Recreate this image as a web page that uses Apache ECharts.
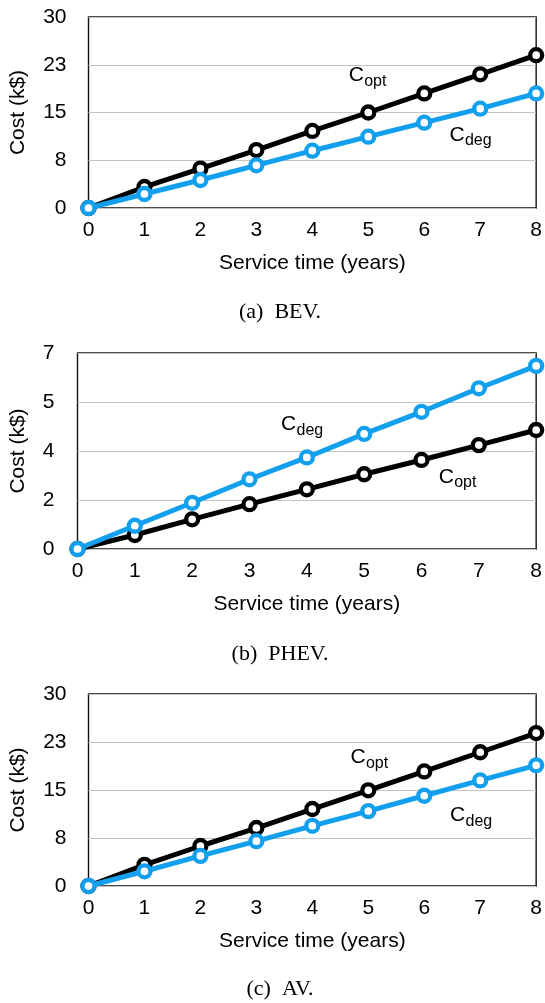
<!DOCTYPE html>
<html>
<head>
<meta charset="utf-8">
<script src="https://cdn.jsdelivr.net/npm/echarts@6/dist/echarts.min.js"></script>
<style>
html,body{margin:0;padding:0;background:#fff;}
#chart{width:545px;height:1003px;}
</style>
</head>
<body>
<div id="chart"></div>
<script>
// ---- data ----
const years = [0, 1, 2, 3, 4, 5, 6, 7, 8];

const bevOpt  = [0, 3.3, 6.2, 9.1, 12.1, 15.0, 18.0, 21.0, 24.0];
const bevDeg  = [0, 2.2, 4.4, 6.7, 9.0, 11.2, 13.4, 15.6, 18.0];

const phevOpt = [0, 0.5, 1.06, 1.6, 2.13, 2.67, 3.18, 3.71, 4.25];
const phevDeg = [0, 0.83, 1.65, 2.49, 3.27, 4.11, 4.9, 5.74, 6.54];

const avOpt   = [0, 3.3, 6.25, 9.06, 12.03, 14.95, 17.9, 20.9, 23.9];
const avDeg   = [0, 2.3, 4.7, 7.0, 9.4, 11.7, 14.1, 16.5, 18.85];

const yMax      = [30, 7, 30];
const yInterval = [7.5, 1.75, 7.5];
const captions  = ['(a)\u2002BEV.', '(b)\u2002PHEV.', '(c)\u2002AV.'];

// series label anchors in data space: [gridIndex, subscript, x, y]
const seriesLabels = [
  [0, 'opt', 4.65, 20.8], [0, 'deg', 6.45, 11.5],
  [1, 'deg', 3.55, 4.44], [1, 'opt', 6.30, 2.58],
  [2, 'opt', 4.68, 20.1], [2, 'deg', 6.46, 11.0]
];

// ---- styling ----
const BLACK = '#000000';
const BLUE = '#12a0ee';
const FONT = '"Liberation Sans", Arial, Helvetica, sans-serif';
const SERIF = '"Liberation Serif", "Times New Roman", serif';

const grids = [
  {left: 88, top: 17, width: 451, height: 191},
  {left: 77, top: 353, width: 462, height: 196},
  {left: 88, top: 694, width: 451, height: 192}
];
const yNameGap = [59.5, 48.5, 59.5];
const captionY = [312.5, 654, 989];

const sets = [[bevOpt, bevDeg], [phevOpt, phevDeg], [avOpt, avDeg]];

const chart = echarts.init(document.getElementById('chart'), null, {renderer: 'canvas'});

const option = {
  animation: false,
  backgroundColor: '#fff',
  grid: grids.map(g => Object.assign({show: true, borderColor: '#111', borderWidth: 1.4, backgroundColor: 'transparent', containLabel: false}, g)),
  xAxis: grids.map((g, i) => ({
    type: 'value', gridIndex: i, min: 0, max: 8, interval: 1,
    name: 'Service time (years)', nameLocation: 'middle', nameGap: 45,
    nameTextStyle: {fontFamily: FONT, fontSize: 21, color: BLACK},
    axisLine: {show: false}, axisTick: {show: false}, splitLine: {show: false},
    axisLabel: {fontFamily: FONT, fontSize: 21, color: BLACK, margin: 12}
  })),
  yAxis: grids.map((g, i) => ({
    type: 'value', gridIndex: i, min: 0, max: yMax[i], interval: yInterval[i],
    name: 'Cost (k$)', nameLocation: 'middle', nameGap: yNameGap[i],
    nameTextStyle: {fontFamily: FONT, fontSize: 21, color: BLACK},
    axisLine: {show: false}, axisTick: {show: false},
    splitLine: {show: true, lineStyle: {color: '#c4c4c4', width: 1}},
    axisLabel: {fontFamily: FONT, fontSize: 21, color: BLACK, margin: i === 1 ? 23 : 22,
      formatter: v => String(Math.round(v))}
  })),
  series: []
};

sets.forEach((pair, i) => {
  [[pair[0], BLACK], [pair[1], BLUE]].forEach(([arr, col], k) => {
    option.series.push({
      type: 'line', xAxisIndex: i, yAxisIndex: i,
      data: years.map((x, j) => [x, arr[j]]),
      symbol: 'circle', symbolSize: 12, clip: false,
      lineStyle: {color: col, width: 5},
      itemStyle: {color: '#fff', borderColor: col, borderWidth: 4.3},
      z: 2 + k
    });
  });
});

chart.setOption(option);

// annotations and captions
const graphics = [];
seriesLabels.forEach(([gi, sub, x, y]) => {
  const p = chart.convertToPixel({gridIndex: gi}, [x, y]);
  graphics.push({type: 'text', z: 10, style: {text: 'C', x: p[0], y: p[1], font: '21px ' + FONT, fill: BLACK, align: 'left', verticalAlign: 'middle'}});
  graphics.push({type: 'text', z: 10, style: {text: sub, x: p[0] + 15.5, y: p[1] + 6, font: '16px ' + FONT, fill: BLACK, align: 'left', verticalAlign: 'middle'}});
});
captions.forEach((c, i) => {
  graphics.push({type: 'text', z: 10, style: {text: c, x: 280, y: captionY[i], font: '22px ' + SERIF, fill: BLACK, align: 'center', verticalAlign: 'middle'}});
});
chart.setOption({graphic: graphics});
</script>
</body>
</html>
